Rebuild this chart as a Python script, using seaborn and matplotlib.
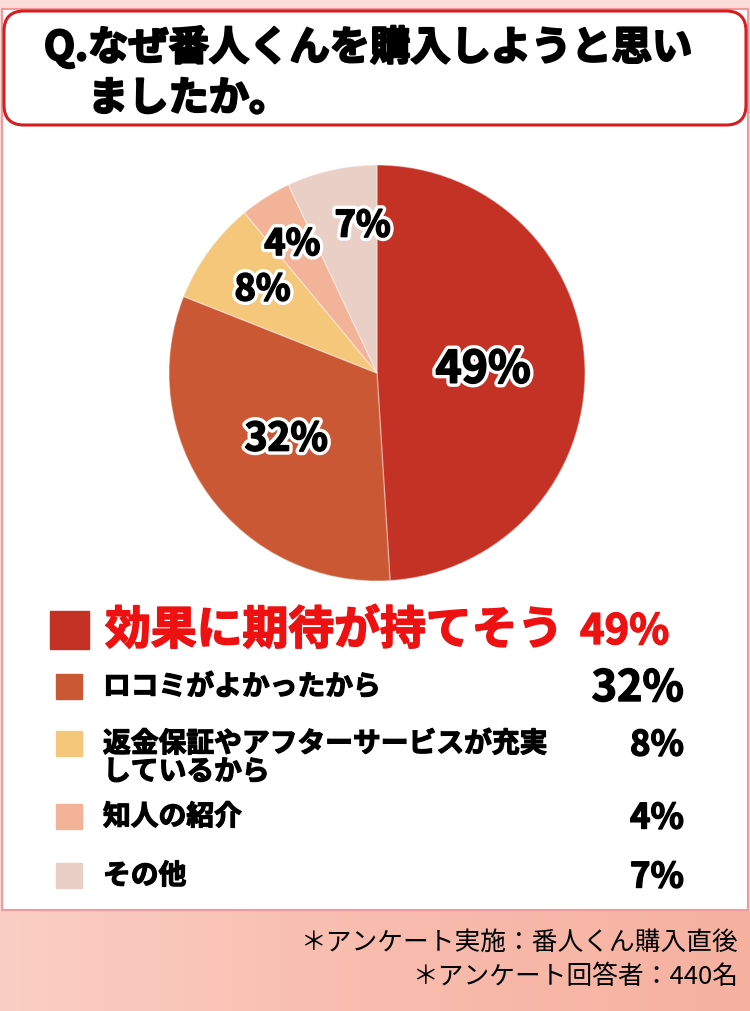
import numpy as np
import seaborn as sns
import matplotlib.pyplot as plt
import matplotlib.patheffects as pe
from matplotlib.patches import FancyBboxPatch, Rectangle

# Survey data
reasons = ["効果に期待が持てそう", "ロコミがよかったから",
           "返金保証やアフターサービスが充実\nしているから", "知人の紹介", "その他"]
shares = [49, 32, 8, 4, 7]
slice_colors = ["#c43226", "#cb5835", "#f4c77a", "#f2b399", "#e9cfc6"]

title_lines = ["Q.なぜ番人くんを購入しようと思い", "ましたか。"]
notes = ["＊アンケート実施：番人くん購入直後", "＊アンケート回答者：440名"]

sns.set_theme(style="white")
plt.rcParams["font.family"] = ["Noto Sans CJK JP", "DejaVu Sans"]
plt.rcParams["text.color"] = "black"


def heavy(color="black", w=1.3):
    # thicken glyphs a bit, the original uses a very heavy gothic
    return [pe.withStroke(linewidth=w, foreground=color)]


fig = plt.figure(figsize=(7.5, 10.12), dpi=100)

# Background layer in pixel coordinates
bg = fig.add_axes([0, 0, 1, 1])
bg.set_xlim(0, 750)
bg.set_ylim(1012, 0)
bg.axis("off")

# pink page, white panel, salmon footer
bg.add_patch(Rectangle((0, 0), 750, 1012, color="#fcdcd8", zorder=0))
grad = np.linspace(0, 1, 256).reshape(1, -1)
bg.imshow(grad, extent=(0, 750, 1012, 912), aspect="auto", zorder=1,
          cmap=sns.blend_palette(["#fbcfc5", "#f8bcae", "#f6b1a0"], as_cmap=True))
bg.add_patch(Rectangle((2, 10), 746, 901, facecolor="white",
                       edgecolor="#f09aa0", linewidth=1.5, zorder=2))
bg.add_patch(FancyBboxPatch((4, 12), 742, 114, boxstyle="round,pad=0,rounding_size=20",
                            facecolor="white", edgecolor="#d41e22", linewidth=2.2, zorder=3))

bg.text(44, 49, title_lines[0], fontsize=29, fontweight="bold", va="center",
        path_effects=heavy(w=1.6), zorder=4)
bg.text(88, 100, title_lines[1], fontsize=29, fontweight="bold", va="center",
        path_effects=heavy(w=1.6), zorder=4)

# Legend rows
bg.add_patch(Rectangle((50, 612), 39, 38, color=slice_colors[0], zorder=4))
bg.text(105, 632, reasons[0], fontsize=33, fontweight="bold", color="#ee1111",
        va="center", path_effects=heavy("#ee1111", 1.2), zorder=4)
bg.text(580, 633, f"{shares[0]}%", fontsize=30, fontweight="bold", color="#ee1111",
        va="center", ha="left", path_effects=heavy("#ee1111", 1.0), zorder=4)

row_y = [688, 745, 818, 877]
pct_size = [31, 25, 25, 25]
for i, y in enumerate(row_y):
    k = i + 1
    bg.add_patch(Rectangle((56, y - 13), 26, 25, color=slice_colors[k], zorder=4))
    bg.text(103, y - 14, reasons[k], fontsize=20, fontweight="bold", va="top",
            linespacing=1.0, path_effects=heavy(w=0.9), zorder=4)
    bg.text(684, y + 1, f"{shares[k]}%", fontsize=pct_size[i], fontweight="bold",
            va="center", ha="right", path_effects=heavy(w=1.0), zorder=4)

bg.text(738, 943, notes[0], fontsize=18.5, ha="right", va="center", zorder=4)
bg.text(738, 977, notes[1], fontsize=18.5, ha="right", va="center", zorder=4)

# Pie chart
cx, cy, r = 377, 374, 208
ax = fig.add_axes([(cx - r) / 750, (1012 - cy - r) / 1012, 2 * r / 750, 2 * r / 1012])
wedges, _ = ax.pie(shares, colors=slice_colors, startangle=90, counterclock=False,
                   radius=1, wedgeprops=dict(edgecolor=(1, 1, 1, 0.35), linewidth=1))
ax.set_xlim(-1, 1)
ax.set_ylim(-1, 1)
ax.set_aspect("auto")

label_dist = [0.51, 0.54, 0.68, 0.74, 0.71]
label_turn = [0, 0, 0, 1, -7]   # small angular nudges (degrees) to keep labels apart
label_size = [32, 28, 26, 26, 26]
for w, v, d, t, fs in zip(wedges, shares, label_dist, label_turn, label_size):
    mid = np.deg2rad((w.theta1 + w.theta2) / 2 + t)
    ax.text(d * np.cos(mid), d * np.sin(mid), f"{v}%", fontsize=fs, fontweight="bold",
            ha="center", va="center", color="black",
            path_effects=[pe.withStroke(linewidth=6, foreground="white"),
                          pe.withStroke(linewidth=1.2, foreground="black")])

fig.savefig("out.png", dpi=100)
